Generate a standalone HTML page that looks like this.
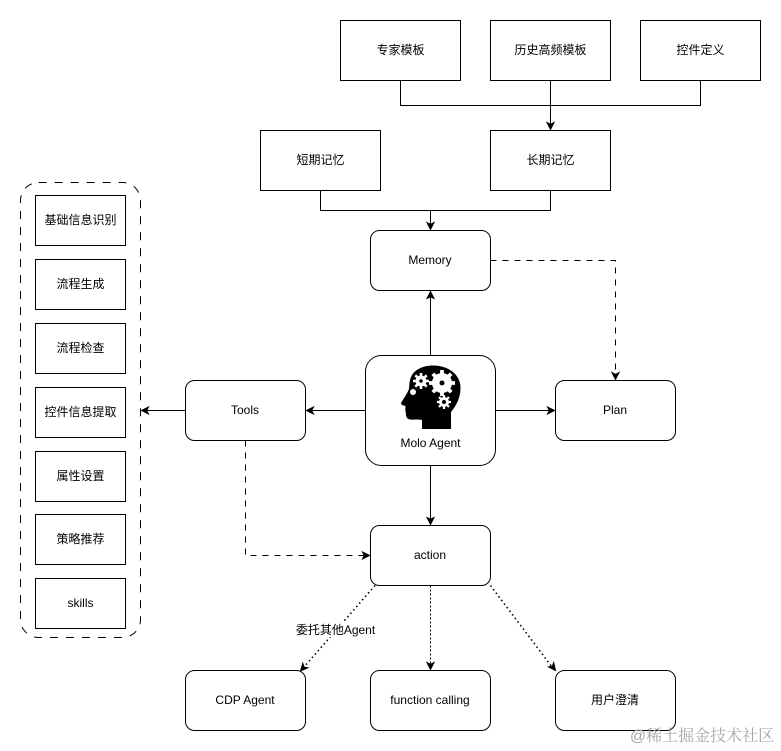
<!DOCTYPE html>
<html lang="zh">
<head>
<meta charset="utf-8">
<style>
html,body{margin:0;padding:0;background:#fff;width:781px;height:751px;overflow:hidden}
svg{display:block}
text{font-family:"Liberation Sans","Noto Sans CJK SC",sans-serif;font-size:12px;fill:#000;text-anchor:middle}
.b{fill:#fff;stroke:#000;stroke-width:1}
.l{fill:none;stroke:#000;stroke-width:1}
.a{fill:#000;stroke:#000;stroke-width:1}
</style>
</head>
<body>
<svg width="781" height="751" viewBox="0 0 781 751" xmlns="http://www.w3.org/2000/svg">
<!-- connectors -->
<path class="l" d="M400.500 80.500V105.500H700.500V80.500M550.500 80.500V124"/>
<path class="a" d="M550.500 129.500l-3.500-7 3.500 1.800 3.500-1.800z"/>
<path class="l" d="M320.500 190.500V210.500H550.500V190.500M430.500 210.500V224"/>
<path class="a" d="M430.500 229.500l-3.500-7 3.500 1.800 3.500-1.800z"/>
<path class="l" d="M430.500 355.500V297"/>
<path class="a" d="M430.500 291.500l-3.500 7 3.500-1.800 3.500 1.800z"/>
<path class="l" d="M365.500 410.500H312"/>
<path class="a" d="M306.500 410.500l7-3.500-1.800 3.500 1.800 3.500z"/>
<path class="l" d="M185.500 410.500H147"/>
<path class="a" d="M141.500 410.500l7-3.500-1.800 3.500 1.800 3.500z"/>
<path class="l" d="M495.500 410.500H549"/>
<path class="a" d="M554.500 410.500l-7-3.500 1.800 3.500-1.800 3.500z"/>
<path class="l" d="M430.500 465.500V519"/>
<path class="a" d="M430.500 524.500l-3.500-7 3.500 1.800 3.500-1.800z"/>
<path class="l" stroke-dasharray="6 6" d="M490.500 260.500H615.500V374"/>
<path class="a" d="M615.500 379.500l-3.500-7 3.500 1.800 3.500-1.800z"/>
<path class="l" stroke-dasharray="6 6" d="M245.500 440.500V555.500H364"/>
<path class="a" d="M369.500 555.500l-7-3.500 1.800 3.500-1.800 3.500z"/>
<path class="l" style="stroke-width:1.600;stroke-dasharray:1.500 3" d="M375 585.500L304 667"/>
<path class="a" d="M300.500 671l2.300-7.800 1.200 3.800 3.900.8z"/>
<path class="l" stroke-dasharray="2 2" d="M430.500 585.500V664"/>
<path class="a" d="M430.500 669.500l-3.500-7 3.500 1.800 3.500-1.800z"/>
<path class="l" style="stroke-width:1.600;stroke-dasharray:1.500 3" d="M490.500 585.500L552 667"/>
<path class="a" d="M555.500 670.500l-7-3.600 3.800-.6 1.400-3.700z"/>

<!-- top boxes -->
<rect class="b" x="340.500" y="20.500" width="120" height="60"/>
<text x="400.500" y="54">专家模板</text>
<rect class="b" x="490.500" y="20.500" width="120" height="60"/>
<text x="550.500" y="54">历史高频模板</text>
<rect class="b" x="640.500" y="20.500" width="120" height="60"/>
<text x="700.500" y="54">控件定义</text>
<rect class="b" x="260.500" y="130.500" width="120" height="60"/>
<text x="320.500" y="164">短期记忆</text>
<rect class="b" x="490.500" y="130.500" width="120" height="60"/>
<text x="550.500" y="164">长期记忆</text>

<!-- rounded nodes -->
<rect class="b" x="370.500" y="230.500" width="120" height="60" rx="9"/>
<text x="430" y="264">Memory</text>
<rect class="b" x="185.500" y="380.500" width="120" height="60" rx="9"/>
<text x="245" y="414">Tools</text>
<rect class="b" x="555.500" y="380.500" width="120" height="60" rx="9"/>
<text x="615" y="414">Plan</text>
<rect class="b" x="370.500" y="525.500" width="120" height="60" rx="9"/>
<text x="430" y="559">action</text>
<rect class="b" x="185.500" y="670.500" width="120" height="60" rx="9"/>
<text x="245" y="704">CDP Agent</text>
<rect class="b" x="370.500" y="670.500" width="120" height="60" rx="9"/>
<text x="430" y="704">function calling</text>
<rect class="b" x="555.500" y="670.500" width="120" height="60" rx="9"/>
<text x="615" y="704">用户澄清</text>

<!-- agent -->
<rect class="b" x="365.500" y="355.500" width="130" height="110" rx="16"/>
<path fill="#000" d="M433 365.500C424 365.500 415 369 411.500 376C409 381 409.500 385 409 389C407 394 404 398 401 403C401 405 403.500 405.500 405.500 406C405.500 408 405 411 406 413C405.500 416 407 419.500 410.500 419.500C414 420 418 419 422 420V429H451V412C456 406 460.500 398 460.500 388C460.500 374 448 365.500 433 365.500Z"/>
<g fill="#fff">
<circle cx="442" cy="383" r="10"/>
<g stroke="#fff" stroke-width="3.800">
<path d="M442 370V396M429 383H455M432.800 373.800L451.200 392.200M451.200 373.800L432.800 392.200"/>
</g>
<circle cx="421" cy="381" r="5.500"/>
<g stroke="#fff" stroke-width="2.600">
<path d="M421 373V389M413 381H429M415.300 375.300L426.700 386.700M426.700 375.300L415.300 386.700"/>
</g>
<circle cx="444" cy="402" r="5"/>
<g stroke="#fff" stroke-width="2.200">
<path d="M444 395V409M437 402H451M439 397L449 407M449 397L439 407"/>
</g>
<circle cx="413" cy="392" r="3"/>
</g>
<circle cx="442" cy="383" r="2.500" fill="#000"/>
<circle cx="421" cy="381" r="1.800" fill="#000"/>
<circle cx="444" cy="402" r="2" fill="#000"/>
<text x="430.500" y="447">Molo Agent</text>

<!-- skills group -->
<rect x="20.500" y="182.500" width="120" height="455" rx="18" fill="#fff" stroke="#000" stroke-width="1" stroke-dasharray="8 8"/>
<rect class="b" x="35.500" y="195.500" width="90" height="50"/>
<text x="80.500" y="224">基础信息识别</text>
<rect class="b" x="35.500" y="259.500" width="90" height="50"/>
<text x="80.500" y="288">流程生成</text>
<rect class="b" x="35.500" y="323.500" width="90" height="50"/>
<text x="80.500" y="352">流程检查</text>
<rect class="b" x="35.500" y="387.500" width="90" height="50"/>
<text x="80.500" y="416">控件信息提取</text>
<rect class="b" x="35.500" y="451.500" width="90" height="50"/>
<text x="80.500" y="480">属性设置</text>
<rect class="b" x="35.500" y="514.500" width="90" height="50"/>
<text x="80.500" y="543">策略推荐</text>
<rect class="b" x="35.500" y="578.500" width="90" height="50"/>
<text x="80.500" y="607">skills</text>

<!-- edge label -->
<rect x="296" y="622" width="80" height="15" fill="#fff"/>
<text x="335.500" y="634">委托其他Agent</text>

<!-- watermark -->
<text x="702" y="741" style="font-size:16px;fill:#a6a6a6;font-family:'Liberation Sans','Noto Serif CJK SC',serif">@稀土掘金技术社区</text>
</svg>
</body>
</html>
